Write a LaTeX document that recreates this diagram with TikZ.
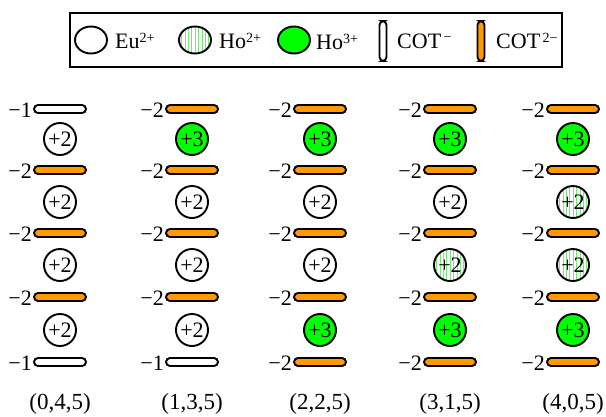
\documentclass[tikz,border=0pt]{standalone}
\usepackage{fontspec}
\setmainfont{Liberation Serif}
\usetikzlibrary{shapes.geometric}
\definecolor{hogreen}{RGB}{0,255,0}
\definecolor{stripegreen}{RGB}{120,230,120}
\definecolor{cotorange}{RGB}{255,153,0}
\tikzset{
  stripes/.style={path picture={
    \foreach \k in {-8,...,8}
      \draw[stripegreen, line width=0.6pt]
        ([xshift=\k*3.4pt]path picture bounding box.north) --
        ([xshift=\k*3.4pt]path picture bounding box.south);}},
  ion/.style={circle, draw, line width=1.9pt, fill=white, minimum size=32pt,
    inner sep=0pt, font=\fontsize{22}{22}\selectfont},
  me/.style={ion, node contents={+2}},
  mh/.style={ion, stripes, node contents={+2}},
  mg/.style={ion, fill=hogreen, node contents={+3}},
  chg/.style={anchor=east, inner sep=0pt, font=\fontsize{22}{22}\selectfont},
  cotbar/.style={rectangle, draw, line width=1.9pt, rounded corners=4pt,
    minimum width=52pt, minimum height=8pt, inner sep=0pt},
  c1/.style={cotbar, fill=white, label={[chg, xshift=-1pt, yshift=-1pt]west:−1}},
  c2/.style={cotbar, fill=cotorange, label={[chg, xshift=-1pt, yshift=-1pt]west:−2}},
  tag/.style={inner sep=0pt, font=\fontsize{23}{23}\selectfont},
  keyion/.style={ellipse, draw, line width=1.9pt, fill=white, minimum width=32pt,
    minimum height=27pt, inner sep=0pt},
  keycot/.style={rectangle, draw, line width=1.9pt, fill=white, rounded corners=4pt,
    minimum width=7pt, minimum height=40pt, inner sep=0pt},
  keytext/.style={anchor=west, inner sep=0pt, font=\fontsize{22}{22}\selectfont},
}
\newcommand{\sups}[1]{\raisebox{0.62ex}{\fontsize{14}{14}\selectfont #1}}
\begin{document}
\begin{tikzpicture}[x=1pt, y=-1pt]
\useasboundingbox (0,0) rectangle (606,416);

% legend
\node[draw, line width=1.9pt, minimum width=492pt, minimum height=54pt, inner sep=0pt]
  (legend) at (316,40) {};
\node[keyion] (kEu) at (91,40) {};
\node[keytext] (tEu) at (115,41) {Eu\sups{2+}};
\node[keyion, stripes] (kHoII) at (195,40) {};
\node[keytext] (tHoII) at (219,41) {Ho\sups{2+}};
\node[keyion, fill=hogreen] (kHoIII) at (294,40) {};
\node[keytext] (tHoIII) at (316,42) {Ho\sups{3+}};
\node[keycot] (kCotI) at (383,41) {};
\node[keytext] (tCotI) at (397,41) {COT\sups{\,−}};
\node[keycot, fill=cotorange] (kCotII) at (481,41) {};
\node[keytext] (tCotII) at (496,41) {COT\sups{\,2−}};

% sandwich columns: x / ligands top to bottom / metals top to bottom / tag
\foreach \c/\x/\la/\lb/\lc/\ld/\le/\ma/\mb/\mc/\md/\t in {
  1/60/c1/c2/c2/c2/c1/me/me/me/me/{(0,4,5)},
  2/192/c2/c2/c2/c2/c1/mg/me/me/me/{(1,3,5)},
  3/320/c2/c2/c2/c2/c2/mg/me/me/mg/{(2,2,5)},
  4/450/c2/c2/c2/c2/c2/mg/me/mh/mg/{(3,1,5)},
  5/573/c2/c2/c2/c2/c2/mg/mh/mh/mg/{(4,0,5)}} {
  \foreach \r/\y/\s in {1/109/\la, 2/170/\lb, 3/233/\lc, 4/297/\ld, 5/362/\le}
    \node[\s] (L\c\r) at (\x,\y) {};
  \foreach \r/\y/\s in {1/139/\ma, 2/202/\mb, 3/265/\mc, 4/330/\md}
    \node[\s, name=M\c\r, at={(\x,\y)}];
  \node[tag] (T\c) at (\x,404) {\t};
}
\end{tikzpicture}
\end{document}
